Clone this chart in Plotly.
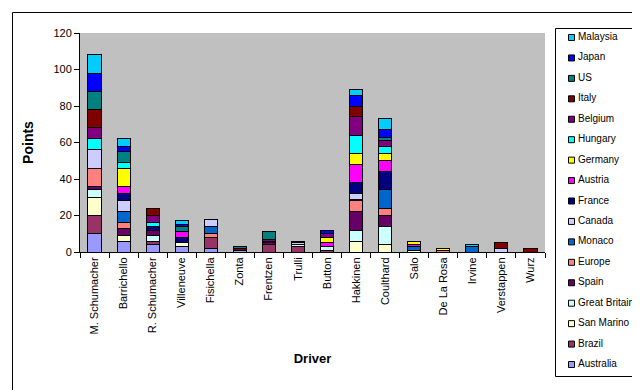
import plotly.graph_objects as go

drivers = ["M. Schumacher", "Barrichello", "R. Schumacher", "Villeneuve", "Fisichella",
           "Zonta", "Frentzen", "Trulli", "Button", "Hakkinen", "Coulthard", "Salo",
           "De La Rosa", "Irvine", "Verstappen", "Wurz"]

races = ["Australia", "Brazil", "San Marino", "Great Britain", "Spain", "Europe",
         "Monaco", "Canada", "France", "Austria", "Germany", "Hungary", "Belgium",
         "Italy", "US", "Japan", "Malaysia"]

# points per race, in driver order above
australia    = [10, 6, 4, 3, 2, 1, 0, 0, 0, 0, 0, 0, 0, 0, 0, 0]
brazil       = [10, 0, 2, 0, 6, 0, 4, 3, 1, 0, 0, 0, 0, 0, 0, 0]
san_marino   = [10, 3, 0, 2, 0, 0, 0, 0, 0, 6, 4, 1, 0, 0, 0, 0]
great_brit   = [4, 0, 3, 0, 0, 0, 0, 1, 2, 6, 10, 0, 0, 0, 0, 0]
spain        = [2, 4, 3, 0, 0, 0, 1, 0, 0, 10, 6, 0, 0, 0, 0, 0]
europe       = [10, 3, 0, 0, 2, 0, 0, 0, 0, 6, 4, 0, 1, 0, 0, 0]
monaco       = [0, 6, 0, 0, 4, 0, 0, 0, 0, 1, 10, 2, 0, 3, 0, 0]
canada       = [10, 6, 0, 0, 4, 0, 0, 1, 0, 3, 0, 0, 0, 0, 2, 0]
france       = [0, 4, 2, 3, 0, 0, 0, 1, 0, 6, 10, 0, 0, 0, 0, 0]
austria      = [0, 4, 0, 3, 0, 0, 0, 0, 2, 10, 6, 1, 0, 0, 0, 0]
germany      = [0, 10, 0, 0, 0, 0, 0, 0, 3, 6, 4, 2, 1, 0, 0, 0]
hungary      = [6, 3, 2, 0, 0, 0, 1, 0, 0, 10, 4, 0, 0, 0, 0, 0]
belgium      = [6, 0, 4, 0, 0, 0, 1, 0, 2, 10, 3, 0, 0, 0, 0, 0]
italy        = [10, 0, 4, 0, 0, 1, 0, 0, 0, 6, 0, 0, 0, 0, 3, 2]
us           = [10, 6, 0, 3, 0, 1, 4, 0, 0, 0, 2, 0, 0, 0, 0, 0]
japan        = [10, 3, 0, 1, 0, 0, 0, 0, 2, 6, 4, 0, 0, 0, 0, 0]
malaysia     = [10, 4, 0, 2, 0, 0, 0, 0, 0, 3, 6, 0, 0, 1, 0, 0]

series = [australia, brazil, san_marino, great_brit, spain, europe, monaco, canada,
          france, austria, germany, hungary, belgium, italy, us, japan, malaysia]

colors = ["#9999FF", "#993366", "#FFFFCC", "#CCFFFF", "#660066", "#FF8080",
          "#0066CC", "#CCCCFF", "#000080", "#FF00FF", "#FFFF00", "#00FFFF",
          "#800080", "#800000", "#008080", "#0000FF", "#00CCFF"]

FONT = "Liberation Sans, Arial, sans-serif"

fig = go.Figure()
for name, vals, col in zip(races, series, colors):
    fig.add_trace(go.Bar(
        x=drivers, y=vals, name=name,
        marker=dict(color=col, line=dict(color="black", width=1)),
    ))

L, R, T, B = 72, 103, 25, 146
pw, ph = 640 - L - R, 390 - T - B

def px(x):
    return (x - L) / pw

def py(y):
    return (390 - B - y) / ph

shapes = [
    # outer chart border
    dict(type="rect", xref="paper", yref="paper",
         x0=px(4.5), x1=px(633.5), y0=py(384.5), y1=py(4.5),
         line=dict(color="black", width=1), fillcolor="rgba(0,0,0,0)", layer="below"),
    # legend box
    dict(type="rect", xref="paper", yref="paper",
         x0=px(547.5), x1=px(630.5), y0=py(368.5), y1=py(20.5),
         line=dict(color="black", width=1), fillcolor="white", layer="below"),
]
annotations = []
n = len(races)
top_c, bot_c = 29.5, 356.5
step = (bot_c - top_c) / (n - 1)
for i, (name, col) in enumerate(zip(reversed(races), reversed(colors))):
    yc = top_c + i * step
    shapes.append(dict(type="rect", xref="paper", yref="paper",
                       x0=px(560.5), x1=px(566.5), y0=py(yc + 3), y1=py(yc - 3),
                       line=dict(color="black", width=1), fillcolor=col, layer="above"))
    annotations.append(dict(xref="paper", yref="paper", x=px(567.5), y=py(yc - 1),
                            text=name, showarrow=False, xanchor="left", yanchor="middle",
                            font=dict(family=FONT, size=10, color="black")))

fig.update_layout(
    width=640, height=390,
    margin=dict(l=L, r=R, t=T, b=B, autoexpand=False),
    barmode="stack", bargap=0.55,
    plot_bgcolor="#C0C0C0", paper_bgcolor="white",
    font=dict(family=FONT, size=11, color="black"),
    showlegend=False,
    xaxis=dict(
        showline=True, linecolor="black", linewidth=1,
        ticks="outside", ticklen=5, tickcolor="black", tickson="boundaries",
        tickangle=-90, tickfont=dict(size=11),
        title=dict(text="<b>Driver</b>", font=dict(size=13), standoff=20),
        automargin=False,
    ),
    yaxis=dict(
        range=[0, 120], dtick=20, showgrid=False, zeroline=False,
        showline=True, linecolor="black", linewidth=1,
        ticks="outside", ticklen=5, tickcolor="black",
        tickfont=dict(size=11),
        title=dict(text="<b>Points</b>", font=dict(size=14), standoff=16),
        automargin=False,
    ),
    shapes=shapes,
    annotations=annotations,
)

fig.write_html("out.html")
